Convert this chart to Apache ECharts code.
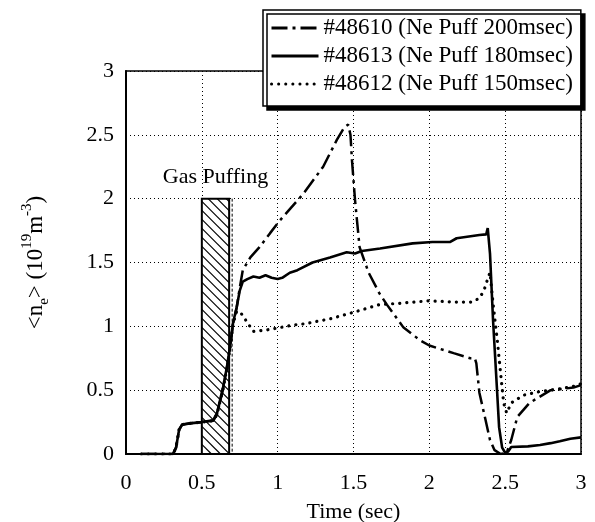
<!DOCTYPE html>
<html>
<head>
<meta charset="utf-8">
<script src="https://cdn.jsdelivr.net/npm/echarts@6/dist/echarts.min.js"></script>
<style>
html,body{margin:0;padding:0;background:#fff;}
#main{width:595px;height:522px;}
</style>
</head>
<body>
<div id="main"></div>
<script>
// tick labels
var tickLabels = ['0', '0.5', '1', '1.5', '2', '2.5', '3'];

// #48613 (solid)
var t48613 = [0.10, 0.20, 0.31, 0.33, 0.35, 0.37, 0.42, 0.50, 0.575, 0.60, 0.62, 0.64, 0.665, 0.686, 0.706, 0.73, 0.75, 0.77,
  0.80, 0.84, 0.88, 0.92, 0.96, 1.00, 1.03, 1.08, 1.13, 1.23, 1.345, 1.455, 1.51, 1.555, 1.675, 1.89, 2.02, 2.135, 2.18,
  2.33, 2.375, 2.385, 2.40, 2.42, 2.445, 2.46, 2.48, 2.50, 2.52, 2.54, 2.65, 2.73, 2.80, 2.86, 2.93, 3.00];
var n48613 = [0.00, 0.00, 0.00, 0.05, 0.19, 0.23, 0.24, 0.25, 0.265, 0.32, 0.42, 0.52, 0.68, 0.84, 1.03, 1.15, 1.28, 1.35,
  1.37, 1.39, 1.38, 1.40, 1.38, 1.37, 1.38, 1.42, 1.44, 1.50, 1.54, 1.58, 1.57, 1.59, 1.61, 1.65, 1.66, 1.66, 1.69,
  1.715, 1.72, 1.77, 1.57, 1.05, 0.53, 0.21, 0.05, 0.01, 0.02, 0.055, 0.06, 0.07, 0.085, 0.10, 0.12, 0.13];

// #48610 (dash)
var t48610 = [0.10, 0.20, 0.31, 0.33, 0.35, 0.37, 0.42, 0.50, 0.575, 0.60, 0.62, 0.64, 0.665, 0.686, 0.706, 0.73, 0.75, 0.77,
  0.82, 0.88, 0.95, 1.015, 1.17, 1.30, 1.39, 1.44, 1.465, 1.48, 1.49, 1.51, 1.54, 1.60, 1.67, 1.72, 1.83, 1.94, 2.00,
  2.16, 2.27, 2.30, 2.31, 2.33, 2.37, 2.40, 2.43, 2.47, 2.51, 2.54, 2.58, 2.66, 2.80, 2.95, 3.00];
var n48610 = [0.00, 0.00, 0.00, 0.05, 0.19, 0.23, 0.24, 0.25, 0.26, 0.31, 0.41, 0.51, 0.67, 0.83, 1.02, 1.15, 1.30, 1.44,
  1.54, 1.62, 1.73, 1.83, 2.04, 2.25, 2.46, 2.56, 2.58, 2.50, 2.30, 1.99, 1.62, 1.42, 1.26, 1.17, 0.99, 0.89, 0.85,
  0.79, 0.75, 0.75, 0.71, 0.48, 0.27, 0.11, 0.03, 0.00, 0.01, 0.11, 0.29, 0.40, 0.50, 0.52, 0.54];

// #48612 (dot)
var t48612 = [0.10, 0.20, 0.31, 0.33, 0.35, 0.37, 0.42, 0.50, 0.575, 0.60, 0.62, 0.64, 0.665, 0.686, 0.706, 0.73, 0.76, 0.80,
  0.84, 0.92, 1.015, 1.10, 1.18, 1.35, 1.50, 1.67, 1.80, 2.00, 2.17, 2.28, 2.33, 2.36, 2.39, 2.40, 2.42, 2.45, 2.47,
  2.49, 2.51, 2.54, 2.62, 2.73, 2.86, 2.95, 3.00];
var n48612 = [0.00, 0.00, 0.00, 0.05, 0.19, 0.23, 0.24, 0.25, 0.26, 0.31, 0.41, 0.51, 0.67, 0.83, 1.02, 1.12, 1.10, 1.03,
  0.96, 0.97, 0.99, 1.01, 1.02, 1.06, 1.11, 1.17, 1.18, 1.20, 1.19, 1.19, 1.22, 1.28, 1.39, 1.42, 1.18, 0.87, 0.63,
  0.40, 0.32, 0.40, 0.46, 0.49, 0.51, 0.53, 0.55];

// gas puff window
var puffStart = 0.5;
var puffEnd = 0.68;
var puffTop = 2;
var puffMarker = 0.7;

var seriesNames = ['#48610 (Ne Puff 200msec)', '#48613 (Ne Puff 180msec)', '#48612 (Ne Puff 150msec)'];

function pairs(t, n){
    return t.map(function(v, i){ return [v, n[i]]; });
}

var serif = 'Liberation Serif';

function renderPuff(params, api){
    var p0 = api.coord([puffStart, puffTop]);
    var p1 = api.coord([puffEnd, 0]);
    var pm0 = api.coord([puffMarker, puffTop]);
    var pm1 = api.coord([puffMarker, 0]);
    var x0 = p0[0], y0 = p0[1], x1 = p1[0], y1 = p1[1];
    var children = [];
    children.push({
        type: 'rect',
        shape: {x: x0, y: y0, width: x1 - x0, height: y1 - y0},
        style: {fill: '#fff', stroke: null}
    });
    // hatch lines
    var step = 9;
    for (var c = y0 - x1 + 3; c < y1 - x0; c += step) {
        var xs = Math.max(x0, y0 - c);
        var xe = Math.min(x1, y1 - c);
        if (xs < xe) {
            children.push({
                type: 'line',
                shape: {x1: xs, y1: xs + c, x2: xe, y2: xe + c},
                style: {stroke: '#000', lineWidth: 1.2}
            });
        }
    }
    children.push({
        type: 'rect',
        shape: {x: x0, y: y0, width: x1 - x0, height: y1 - y0},
        style: {fill: null, stroke: '#000', lineWidth: 2}
    });
    children.push({
        type: 'line',
        shape: {x1: pm0[0], y1: pm0[1], x2: pm1[0], y2: pm1[1]},
        style: {stroke: '#000', lineWidth: 1, lineDash: [3, 2]}
    });
    var tp = api.coord([(puffStart + puffEnd) / 2, 2.17]);
    children.push({
        type: 'text',
        x: tp[0], y: tp[1],
        style: {text: 'Gas Puffing', font: '22px "Liberation Serif"', fill: '#000', align: 'center', verticalAlign: 'middle'}
    });
    return {type: 'group', children: children};
}

var myChart = echarts.init(document.getElementById('main'));

var axisCommon = {
    type: 'value',
    min: 0,
    max: 3,
    interval: 0.5,
    axisLine: {show: true, lineStyle: {color: '#000', width: 2}},
    axisTick: {show: false},
    splitLine: {show: true, lineStyle: {color: '#000', type: [1, 3], width: 1}},
    nameLocation: 'middle'
};

var option = {
    backgroundColor: '#fff',
    animation: false,
    color: ['#000', '#000', '#000', '#000'],
    grid: {left: 126, right: 14, top: 71, bottom: 68, show: true, borderColor: '#000', borderWidth: 1.5,
        outerBoundsMode: 'none', containLabel: false},
    legend: {
        data: seriesNames,
        left: 263,
        top: 10,
        orient: 'vertical',
        itemWidth: 47,
        itemHeight: 20,
        itemGap: 0,
        padding: [4, 8, 8, 7],
        itemStyle: {color: 'rgba(0,0,0,0)', borderWidth: 0, opacity: 0},
        lineStyle: {width: 3},
        textStyle: {fontSize: 23, fontFamily: serif, color: '#000', lineHeight: 28},
        borderColor: '#000',
        borderWidth: 1.5,
        backgroundColor: '#fff',
        shadowColor: '#000',
        shadowOffsetX: 4,
        shadowOffsetY: 4,
        shadowBlur: 0
    },
    xAxis: Object.assign({}, axisCommon, {
        name: 'Time (sec)',
        nameGap: 47,
        nameTextStyle: {fontSize: 22, fontFamily: serif, color: '#000'},
        axisLabel: {fontSize: 22, fontFamily: serif, color: '#000', margin: 18,
            formatter: function(v){ return tickLabels[Math.round(v / 0.5)]; }}
    }),
    yAxis: Object.assign({}, axisCommon, {
        name: '{m|<n}{s|e}{m|> (10}{p|19}{m|m}{p|-3}{m|)}',
        nameGap: 74,
        nameTextStyle: {
            fontSize: 22, fontFamily: serif, color: '#000',
            rich: {
                m: {fontSize: 23, fontFamily: serif, color: '#000', lineHeight: 32, verticalAlign: 'middle'},
                s: {fontSize: 15, fontFamily: serif, color: '#000', lineHeight: 16, verticalAlign: 'bottom'},
                p: {fontSize: 15, fontFamily: serif, color: '#000', lineHeight: 14, verticalAlign: 'top'}
            }
        },
        axisLabel: {fontSize: 22, fontFamily: serif, color: '#000', margin: 12,
            formatter: function(v){ return tickLabels[Math.round(v / 0.5)]; }}
    }),
    series: [
        {
            type: 'custom',
            renderItem: renderPuff,
            data: [[puffStart, puffTop]],
            encode: {x: 0, y: 1},
            z: 1,
            silent: true
        },
        {
            name: seriesNames[0],
            type: 'line',
            data: pairs(t48610, n48610),
            symbol: 'none',
            z: 3,
            lineStyle: {color: '#000', width: 2.5, type: [16, 5, 3, 5]}
        },
        {
            name: seriesNames[1],
            type: 'line',
            data: pairs(t48613, n48613),
            symbol: 'none',
            z: 4,
            lineStyle: {color: '#000', width: 2.6, type: 'solid'}
        },
        {
            name: seriesNames[2],
            type: 'line',
            data: pairs(t48612, n48612),
            symbol: 'none',
            z: 2,
            lineStyle: {color: '#000', width: 3.2, type: [0.1, 7], cap: 'round'}
        }
    ]
};

myChart.setOption(option);
</script>
</body>
</html>
